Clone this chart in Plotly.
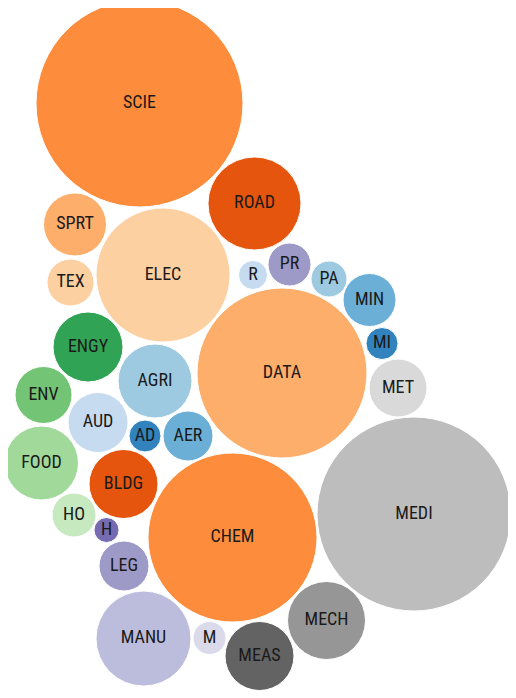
import plotly.graph_objects as go

# rótulos, centros (px) e raios (px)
labels = ['SCIE', 'ROAD', 'SPRT', 'ELEC', 'TEX', 'R', 'PR', 'PA', 'MIN', 'MI',
          'ENGY', 'DATA', 'MET', 'AGRI', 'ENV', 'AUD', 'AD', 'AER', 'FOOD', 'MEDI',
          'BLDG', 'HO', 'H', 'CHEM', 'LEG', 'MECH', 'MANU', 'M', 'MEAS']
cx = [139.5, 254.5, 75, 163, 70.5, 253, 289.5, 329, 369.5, 382,
      88, 282, 398, 155, 43.5, 98, 145, 188, 41.5, 414,
      123.5, 74, 106.5, 232.5, 124, 326.5, 143.5, 209.5, 259.5]
cy = [103.5, 203.5, 224.5, 275, 282.5, 275, 264.5, 279, 300, 343.5,
      347, 373, 388, 381, 395, 422.5, 436, 436, 463, 514,
      484, 515, 530, 537.5, 566, 620.5, 638.5, 638, 656]
raio = [103.5, 46.5, 31.5, 67, 23.5, 14.5, 21.5, 18, 26.5, 16,
        35, 85, 29, 37, 28.5, 30, 16, 25, 37, 97,
        34.5, 22, 12.5, 84.5, 25, 39, 47.5, 16.5, 34.5]
cores = ['#fd8d3c', '#e6550d', '#fdae6b', '#fdd0a2', '#fdd0a2', '#c6dbef', '#9e9ac8', '#9ecae1', '#6baed6', '#3182bd',
         '#31a354', '#fdae6b', '#d9d9d9', '#9ecae1', '#74c476', '#c6dbef', '#3182bd', '#6baed6', '#a1d99b', '#bdbdbd',
         '#e6550d', '#c7e9c0', '#756bb1', '#fd8d3c', '#9e9ac8', '#969696', '#bcbddc', '#dadaeb', '#636363']

fig = go.Figure()

# circulos como shapes em coordenadas de dados
for x, y, r, c in zip(cx, cy, raio, cores):
    fig.add_shape(type='circle', xref='x', yref='y',
                  x0=x - r, x1=x + r, y0=y - r, y1=y + r,
                  fillcolor=c, line=dict(color='white', width=1), layer='below')

fig.add_trace(go.Scatter(x=cx, y=cy, text=labels, mode='text',
                         textfont=dict(family='Liberation Sans Narrow, Roboto Condensed, Roboto',
                                       size=18, color='#1a1a1a'),
                         hoverinfo='text', showlegend=False))

# o body da pagina tem margem de 8px, entao desloco o intervalo dos eixos
fig.update_layout(width=516, height=698,
                  margin=dict(l=0, r=0, t=0, b=0),
                  plot_bgcolor='white', paper_bgcolor='white',
                  xaxis=dict(range=[8, 524], visible=False, fixedrange=True),
                  yaxis=dict(range=[706, 8], visible=False, fixedrange=True))

fig.write_html("out.html")
